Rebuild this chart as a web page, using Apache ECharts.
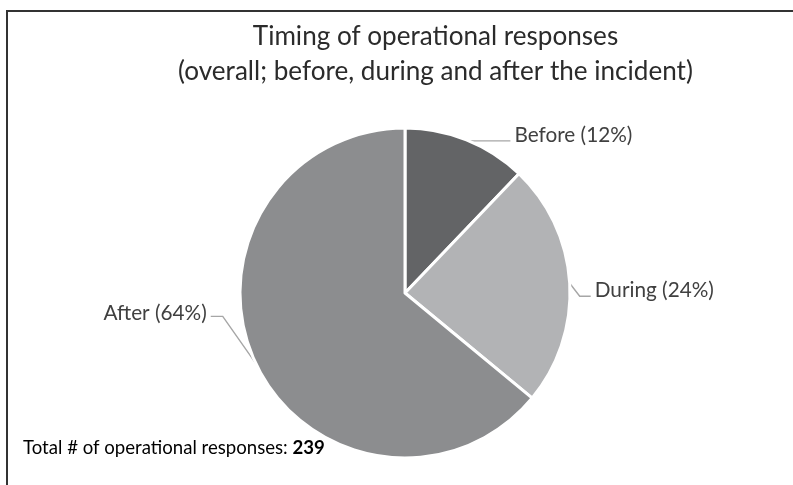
<!DOCTYPE html>
<html>
<head>
<meta charset="utf-8">
<script src="https://cdn.jsdelivr.net/npm/echarts@6/dist/echarts.min.js"></script>
<style>
  html, body { margin: 0; padding: 0; background: #fff; }
  #chart { width: 793px; height: 485px; }
</style>
</head>
<body>
<div id="chart"></div>
<script>
// Timing of operational responses, counted per phase
const categories = ['Before', 'During', 'After'];
const counts = [29, 57, 153];
const sliceColors = ['#636466', '#b2b3b5', '#8c8d8f'];
const totalResponses = 239;
const titleLines = [
  'Timing of operational responses',
  '(overall; before, during and after the incident)'
];
const footnoteText = 'Total # of operational responses: ';

const FONT_NAME = 'Lato';
const FONT = 'Lato, "Open Sans", sans-serif';

// Pick a font size that makes a string span a given width.
const measureCtx = document.createElement('canvas').getContext('2d');
function textWidth(str, weight, size) {
  measureCtx.font = weight + ' ' + size + 'px ' + FONT_NAME;
  return measureCtx.measureText(str).width;
}
function sizeForWidth(str, weight, width) {
  return 100 * width / textWidth(str, weight, 100);
}

function pctLabel(name, pct) {
  return name + ' (' + Math.round(pct) + '%)';
}

const titleSize = sizeForWidth(titleLines[1], 'normal', 515);
const labelSize = sizeForWidth('Before (12%)', 'normal', 118);
const noteSize = 100 * 302 /
  (textWidth(footnoteText, 'normal', 100) + textWidth(String(totalResponses), 'bold', 100));

// Leader-line bends (offsets from the slice edge) and which side the text sits on
const leaderBends = [
  { bend: [1, 1], run: 43, side: 'right', lift: -6 },
  { bend: [10, 13], run: 11, side: 'right', lift: -6 },
  { bend: [-33, -47], run: 12, side: 'left', lift: -3 }
];

const chart = echarts.init(document.getElementById('chart'), null, { renderer: 'canvas' });

chart.setOption({
  backgroundColor: '#ffffff',
  animation: false,
  graphic: [
    {
      type: 'rect',
      shape: { x: 7, y: 11, width: 900, height: 600 },
      style: { fill: 'none', stroke: '#333333', lineWidth: 2 },
      silent: true
    },
    {
      type: 'text',
      silent: true,
      style: {
        text: titleLines[0],
        x: 435.5, y: 37,
        align: 'center', verticalAlign: 'middle',
        fontFamily: FONT, fontSize: titleSize, fill: '#2b2b2b'
      }
    },
    {
      type: 'text',
      silent: true,
      style: {
        text: titleLines[1],
        x: 435.5, y: 72,
        align: 'center', verticalAlign: 'middle',
        fontFamily: FONT, fontSize: titleSize, fill: '#2b2b2b'
      }
    },
    {
      type: 'text',
      silent: true,
      style: {
        text: '{n|' + footnoteText + '}{b|' + totalResponses + '}',
        x: 23, y: 448,
        verticalAlign: 'middle',
        rich: {
          n: { fontFamily: FONT, fontSize: noteSize, color: '#1f1f1f' },
          b: { fontFamily: FONT, fontSize: noteSize, color: '#1f1f1f', fontWeight: 'bold' }
        }
      }
    }
  ],
  series: [
    {
      type: 'pie',
      center: [405, 293],
      radius: [0, 165],
      startAngle: 90,
      clockwise: true,
      avoidLabelOverlap: false,
      itemStyle: { borderColor: '#ffffff', borderWidth: 3 },
      label: {
        show: true,
        position: 'outside',
        fontFamily: FONT,
        fontSize: labelSize,
        color: '#404040',
        formatter: function (p) { return pctLabel(p.name, p.percent); }
      },
      labelLine: {
        show: true,
        length: 10,
        length2: 10,
        lineStyle: { color: '#a6a6a6', width: 1.4 }
      },
      labelLayout: function (params) {
        const cfg = leaderBends[params.dataIndex];
        const pts = params.labelLinePoints;
        if (!cfg || !pts) { return {}; }
        const p0 = pts[0];
        const p1 = [p0[0] + cfg.bend[0], p0[1] + cfg.bend[1]];
        const dir = cfg.side === 'right' ? 1 : -1;
        const p2 = [p1[0] + dir * cfg.run, p1[1]];
        return {
          x: p2[0] + dir * 4,
          y: p2[1] + cfg.lift,
          align: cfg.side === 'right' ? 'left' : 'right',
          verticalAlign: 'middle',
          labelLinePoints: [p0, p1, p2]
        };
      },
      data: categories.map(function (name, i) {
        return { name: name, value: counts[i], itemStyle: { color: sliceColors[i] } };
      })
    }
  ]
});
</script>
</body>
</html>
